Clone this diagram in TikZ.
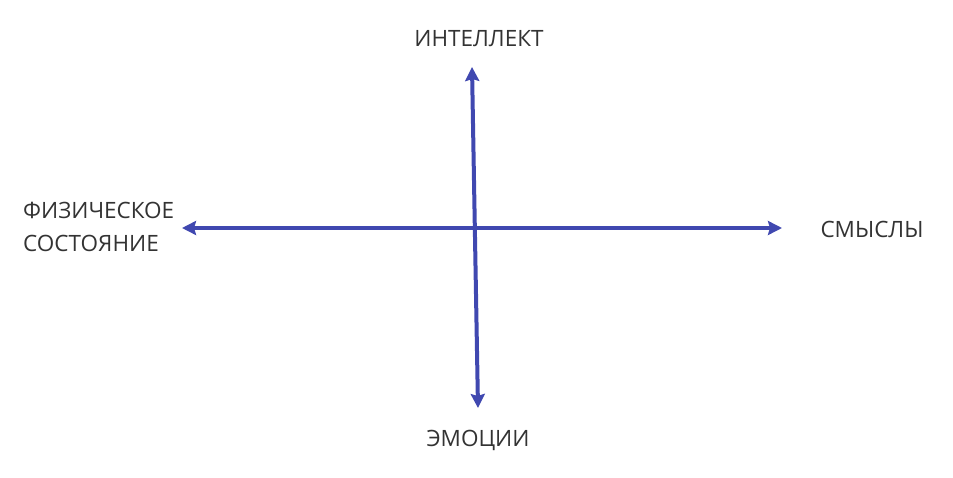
\documentclass[tikz,border=0pt]{standalone}
\usepackage{fontspec}
\setmainfont{Open Sans}
\usetikzlibrary{arrows.meta}
\definecolor{axis}{HTML}{4048B0}
\definecolor{txt}{HTML}{333333}
\begin{document}
\begin{tikzpicture}[x=1pt,y=-1pt,
  axisline/.style={draw=axis,line width=4pt,{Stealth[length=14pt,width=14pt,inset=2pt]}-{Stealth[length=14pt,width=14pt,inset=2pt]}},
  lbl/.style={text=txt,font=\fontsize{22.5}{33}\selectfont,inner sep=0pt}]
\useasboundingbox (0,0) rectangle (953,478);
\coordinate (top) at (472,67);
\coordinate (bot) at (478,408);
\coordinate (left) at (182,228);
\coordinate (right) at (782,228);
\draw[axisline] (top) -- (bot);
\draw[axisline] (left) -- (right);
\node[lbl] (intel) at (479,39) {ИНТЕЛЛЕКТ};
\node[lbl] (emo) at (478,440) {ЭМОЦИИ};
\node[lbl] (sense) at (872,229) {СМЫСЛЫ};
\node[lbl,align=left,anchor=west] (phys) at (23,227) {ФИЗИЧЕСКОЕ\\СОСТОЯНИЕ};
\end{tikzpicture}
\end{document}
